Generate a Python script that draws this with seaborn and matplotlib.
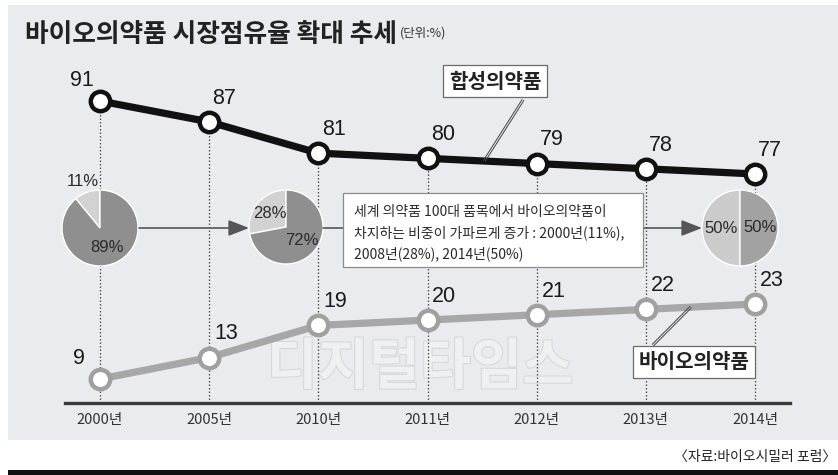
import matplotlib
matplotlib.use("Agg")
import matplotlib.pyplot as plt
import matplotlib.patheffects as pe
from matplotlib import font_manager
from matplotlib.patches import Rectangle, FancyArrowPatch
from matplotlib.lines import Line2D
import numpy as np
import pandas as pd
import seaborn as sns

# ---- data -------------------------------------------------------------
years = ["2000년", "2005년", "2010년", "2011년", "2012년", "2013년", "2014년"]
synthetic = [91, 87, 81, 80, 79, 78, 77]      # 합성의약품 (%)
bio = [9, 13, 19, 20, 21, 22, 23]             # 바이오의약품 (%)

# share of bio drugs among the world's top-100 drugs
pie_years = ["2000", "2008", "2014"]
pie_bio = [11, 28, 50]
pie_syn = [89, 72, 50]

title = "바이오의약품 시장점유율 확대 추세"
unit = "(단위:%)"
note_lines = ["세계 의약품 100대 품목에서 바이오의약품이",
              "차지하는 비중이 가파르게 증가 : 2000년(11%),",
              "2008년(28%), 2014년(50%)"]
source = "〈자료:바이오시밀러 포럼〉"

# ---- style ------------------------------------------------------------
sns.set_theme(style="white")
plt.rcParams["font.family"] = ["Noto Sans CJK KR", "DejaVu Sans"]
installed = {f.name for f in font_manager.fontManager.ttflist}
num_font = ["Liberation Sans Narrow"] if "Liberation Sans Narrow" in installed else ["Liberation Sans"]

W, H = 838, 475
fig = plt.figure(figsize=(W / 100, H / 100), dpi=100, facecolor="white")


def fx(px):
    return px / W


def fy(py):
    return 1 - py / H


# grey panel and bottom black rule
fig.patches.append(Rectangle((fx(8), fy(440)), fx(830), (440 - 5) / H,
                             transform=fig.transFigure, facecolor="#e9ebee",
                             edgecolor="none", zorder=-10))
fig.patches.append(Rectangle((fx(8), 0), fx(830), 5 / H,
                             transform=fig.transFigure, facecolor="#111111",
                             edgecolor="none", zorder=-10))

# watermark
fig.text(fx(420), fy(368), "디지털타임스", fontsize=40, fontweight="bold",
         color="#eef0f2", ha="center", va="center", zorder=-5,
         path_effects=[pe.withStroke(linewidth=1.6, foreground="#d6d8db")])

# ---- main axes (two scales sharing x) --------------------------------
ax_l, ax_r, ax_b, ax_t = 65, 790, 403, 60
rect = [fx(ax_l), fy(ax_b), (ax_r - ax_l) / W, (ax_b - ax_t) / H]
ax = fig.add_axes(rect)
ax.set_facecolor("none")
ax2 = ax.twinx()
ax2.set_facecolor("none")

pos = np.arange(len(years))
df = pd.DataFrame({"pos": pos, "year": years, "synthetic": synthetic, "bio": bio})

ax.set_xlim(-0.32, 6.32)
ax.set_ylim(33.08, 98.86)
ax2.set_ylim(4.52, 68.55)

# dotted guides from each synthetic point down to the baseline
ax.vlines(pos, 33.08, df["synthetic"], colors="#4a4a4a",
          linestyles=(0, (1.2, 1.6)), linewidth=0.9, zorder=1)

sns.lineplot(data=df, x="pos", y="synthetic", ax=ax, color="#111111",
             linewidth=5.2, marker="o", markersize=14,
             markerfacecolor="white", markeredgecolor="#111111",
             markeredgewidth=3.2, zorder=3)
sns.lineplot(data=df, x="pos", y="bio", ax=ax2, color="#a7a7a7",
             linewidth=5.2, marker="o", markersize=14,
             markerfacecolor="white", markeredgecolor="#a0a0a0",
             markeredgewidth=3.2, zorder=3)

for i, v in enumerate(synthetic):
    off = (-13, 15) if i == 0 else (11, 17)
    ax.annotate(str(v), (i, v), xytext=off, textcoords="offset points",
                ha="center", va="center", fontsize=15.5, color="#1a1a1a",
                family=num_font)
for i, v in enumerate(bio):
    off = (-15, 15) if i == 0 else (12, 17)
    ax2.annotate(str(v), (i, v), xytext=off, textcoords="offset points",
                 ha="center", va="center", fontsize=15.5, color="#1a1a1a",
                 family=num_font)

ax.set_xticks(pos, years)
ax.tick_params(axis="x", length=0, pad=7, labelsize=10.5, labelcolor="#333333")
ax.tick_params(axis="y", left=False, labelleft=False)
ax2.tick_params(axis="y", right=False, labelright=False)
ax.set_xlabel("")
ax.set_ylabel("")
ax2.set_ylabel("")
for a in (ax, ax2):
    for s in ("top", "left", "right"):
        a.spines[s].set_visible(False)
ax2.spines["bottom"].set_visible(False)
ax.spines["bottom"].set_color("#3a3a3a")
ax.spines["bottom"].set_linewidth(2.4)

# ---- series labels with leader lines ---------------------------------
def leader(axis, data_xy, start_px, gap=2.0):
    end_disp = axis.transData.transform(data_xy)
    start_disp = np.array([start_px[0], H - start_px[1]], dtype=float)
    d = end_disp - start_disp
    n = np.array([-d[1], d[0]]) / np.hypot(*d)
    for k in (-0.5, 0.5):
        p0 = start_disp + n * gap * k
        p1 = end_disp + n * gap * k
        fig.lines.append(Line2D([p0[0] / W, p1[0] / W], [p0[1] / H, p1[1] / H],
                                transform=fig.transFigure, color="#444444",
                                linewidth=0.7, zorder=2))


leader(ax, (3.52, (synthetic[3] + synthetic[4]) / 2), (523, 100))
leader(ax2, (5.41, bio[5] + 0.41 * (bio[6] - bio[5])), (653, 345))

box = dict(boxstyle="square,pad=0.28", facecolor="white", edgecolor="#6a6a6a",
           linewidth=0.9)
fig.text(fx(495), fy(81), "합성의약품", fontsize=14.5, fontweight="bold",
         color="#222222", ha="center", va="center", bbox=box, zorder=5)
fig.text(fx(694), fy(362), "바이오의약품", fontsize=14.5, fontweight="bold",
         color="#222222", ha="center", va="center", bbox=box, zorder=5)

# ---- pies -------------------------------------------------------------
pie_specs = [((100, 228), 38, ["#d2d2d2", "#8f8f8f"], [1.3, 0.55]),
             ((286, 227), 37, ["#d2d2d2", "#8f8f8f"], [0.58, 0.57]),
             ((740, 228), 38, ["#cbcbcb", "#a2a2a2"], [0.5, 0.52])]
for ((cx, cy), r, cols, dists), b, s in zip(pie_specs, pie_bio, pie_syn):
    pax = fig.add_axes([fx(cx - r), fy(cy + r), 2 * r / W, 2 * r / H])
    wedges, _ = pax.pie([b, s], startangle=90, counterclock=True, colors=cols,
                        wedgeprops=dict(edgecolor="white", linewidth=1.0))
    pax.set_xlim(-1, 1)
    pax.set_ylim(-1, 1)
    pax.set_aspect("equal")
    pax.axis("off")
    for w, val, dist in zip(wedges, (b, s), dists):
        th = np.deg2rad((w.theta1 + w.theta2) / 2)
        pax.text(dist * np.cos(th), dist * np.sin(th), f"{val}%",
                 ha="center", va="center", fontsize=12, color="#2a2a2a",
                 family=num_font, clip_on=False)

# connector arrows between pies and note box
arrow_kw = dict(arrowstyle="-|>,head_length=0.9,head_width=0.35",
                mutation_scale=14, color="#555555", linewidth=1.2,
                shrinkA=0, shrinkB=0, transform=fig.transFigure)
fig.add_artist(FancyArrowPatch((fx(139), fy(228)), (fx(249), fy(228)), **arrow_kw))
fig.lines.append(Line2D([fx(323), fx(343)], [fy(228), fy(228)],
                        transform=fig.transFigure, color="#555555", linewidth=1.2))
fig.add_artist(FancyArrowPatch((fx(643), fy(228)), (fx(702), fy(228)), **arrow_kw))

# note box
fig.patches.append(Rectangle((fx(343), fy(267)), fx(300), (267 - 193) / H,
                             transform=fig.transFigure, facecolor="white",
                             edgecolor="#8a8a8a", linewidth=0.9, zorder=4))
for k, line in enumerate(note_lines):
    fig.text(fx(354), fy(212 + 21 * k), line, fontsize=10, color="#2a2a2a",
             ha="left", va="center", zorder=5)

# ---- title and source -------------------------------------------------
fig.text(fx(25), fy(35), title, fontsize=18.5, fontweight="bold",
         color="#222222", ha="left", va="center")
fig.text(fx(400), fy(33), unit, fontsize=9, color="#333333",
         ha="left", va="center")
fig.text(fx(836), fy(457), source, fontsize=10, color="#222222",
         ha="right", va="center")

fig.savefig("out.png", dpi=100, facecolor="white")
